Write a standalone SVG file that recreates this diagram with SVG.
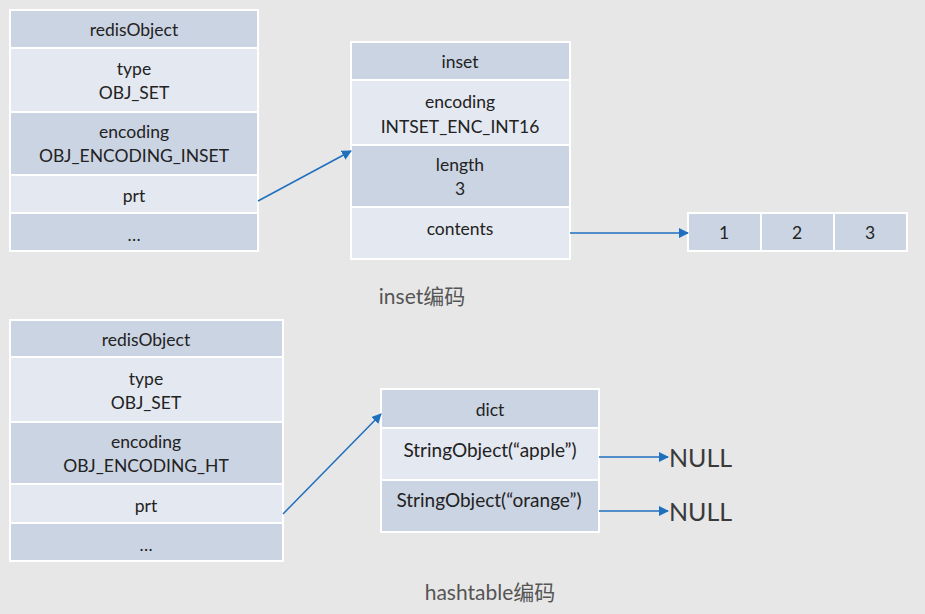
<svg xmlns="http://www.w3.org/2000/svg" width="925" height="614" viewBox="0 0 925 614">
<defs>
<style>
.bg{fill:#e7e7e7}
.d{fill:#cbd4e3;stroke:#ffffff;stroke-width:2}
.l{fill:#e4e8f0;stroke:#ffffff;stroke-width:2}
.t{font-family:Lato,"Open Sans",sans-serif;font-size:17.5px;fill:#222;text-anchor:middle}
.s{font-family:Lato,"Open Sans",sans-serif;font-size:19px;fill:#222;text-anchor:middle}
.n{font-family:Lato,"Open Sans",sans-serif;font-size:25px;fill:#3a3a3a}
.cap{font-family:Lato,"Noto Sans CJK SC",sans-serif;font-size:21px;fill:#555;text-anchor:middle}
.c{stroke:#1f6fbf;stroke-width:1.5;fill:none;marker-end:url(#ah)}
</style>
<marker id="ah" viewBox="0 0 10 10" refX="9" refY="5" markerWidth="10" markerHeight="10" markerUnits="userSpaceOnUse" orient="auto">
<path d="M0,0 L10,5 L0,10 z" fill="#1f6fbf"/>
</marker>
</defs>
<rect class="bg" x="0" y="0" width="925" height="614"/>

<g id="redisObject1">
<rect class="d" x="10" y="10" width="248" height="38"/>
<rect class="l" x="10" y="48" width="248" height="64"/>
<rect class="d" x="10" y="112" width="248" height="63"/>
<rect class="l" x="10" y="175" width="248" height="38"/>
<rect class="d" x="10" y="213" width="248" height="38"/>
<text class="t" x="134" y="36">redisObject</text>
<text class="t" x="134" y="75">type</text>
<text class="t" x="134" y="99">OBJ_SET</text>
<text class="t" x="134" y="138">encoding</text>
<text class="t" x="134" y="162">OBJ_ENCODING_INSET</text>
<text class="t" x="134" y="202">prt</text>
<text class="t" x="134" y="241">…</text>
</g>

<g id="inset">
<rect class="d" x="351" y="42" width="219" height="38"/>
<rect class="l" x="351" y="80" width="219" height="65"/>
<rect class="d" x="351" y="145" width="219" height="62"/>
<rect class="l" x="351" y="207" width="219" height="52"/>
<text class="t" x="460" y="68">inset</text>
<text class="t" x="460" y="108">encoding</text>
<text class="t" x="460" y="133">INTSET_ENC_INT16</text>
<text class="t" x="460" y="171">length</text>
<text class="t" x="460" y="195">3</text>
<text class="t" x="460" y="235">contents</text>
</g>

<g id="array">
<rect class="d" x="688" y="213" width="73" height="38"/>
<rect class="d" x="761" y="213" width="73" height="38"/>
<rect class="d" x="834" y="213" width="73" height="38"/>
<text class="t" x="724" y="239">1</text>
<text class="t" x="797" y="239">2</text>
<text class="t" x="870" y="239">3</text>
</g>

<g id="caption1"><text class="cap" x="422" y="304">inset编码</text></g>

<g id="redisObject2">
<rect class="d" x="10" y="320" width="273" height="37"/>
<rect class="l" x="10" y="357" width="273" height="65"/>
<rect class="d" x="10" y="422" width="273" height="62"/>
<rect class="l" x="10" y="484" width="273" height="39"/>
<rect class="d" x="10" y="523" width="273" height="38"/>
<text class="t" x="146" y="346">redisObject</text>
<text class="t" x="146" y="385">type</text>
<text class="t" x="146" y="409">OBJ_SET</text>
<text class="t" x="146" y="448">encoding</text>
<text class="t" x="146" y="472">OBJ_ENCODING_HT</text>
<text class="t" x="146" y="512">prt</text>
<text class="t" x="146" y="551">…</text>
</g>

<g id="dict">
<rect class="d" x="381" y="389" width="218" height="39"/>
<rect class="l" x="381" y="428" width="218" height="52"/>
<rect class="d" x="381" y="480" width="218" height="52"/>
<text class="t" x="490" y="416">dict</text>
<text class="s" x="490" y="457">StringObject(“apple”)</text>
<text class="s" x="489" y="507">StringObject(“orange”)</text>
</g>

<g id="null1"><text class="n" x="669" y="467">NULL</text></g>
<g id="null2"><text class="n" x="669" y="521">NULL</text></g>

<g id="caption2"><text class="cap" x="490" y="600">hashtable编码</text></g>

<g id="connectors">
<line class="c" x1="258" y1="201" x2="351" y2="151"/>
<line class="c" x1="570" y1="233" x2="688" y2="233"/>
<line class="c" x1="283" y1="514" x2="381" y2="414"/>
<line class="c" x1="599" y1="457" x2="668" y2="457"/>
<line class="c" x1="599" y1="511" x2="668" y2="511"/>
</g>
</svg>
